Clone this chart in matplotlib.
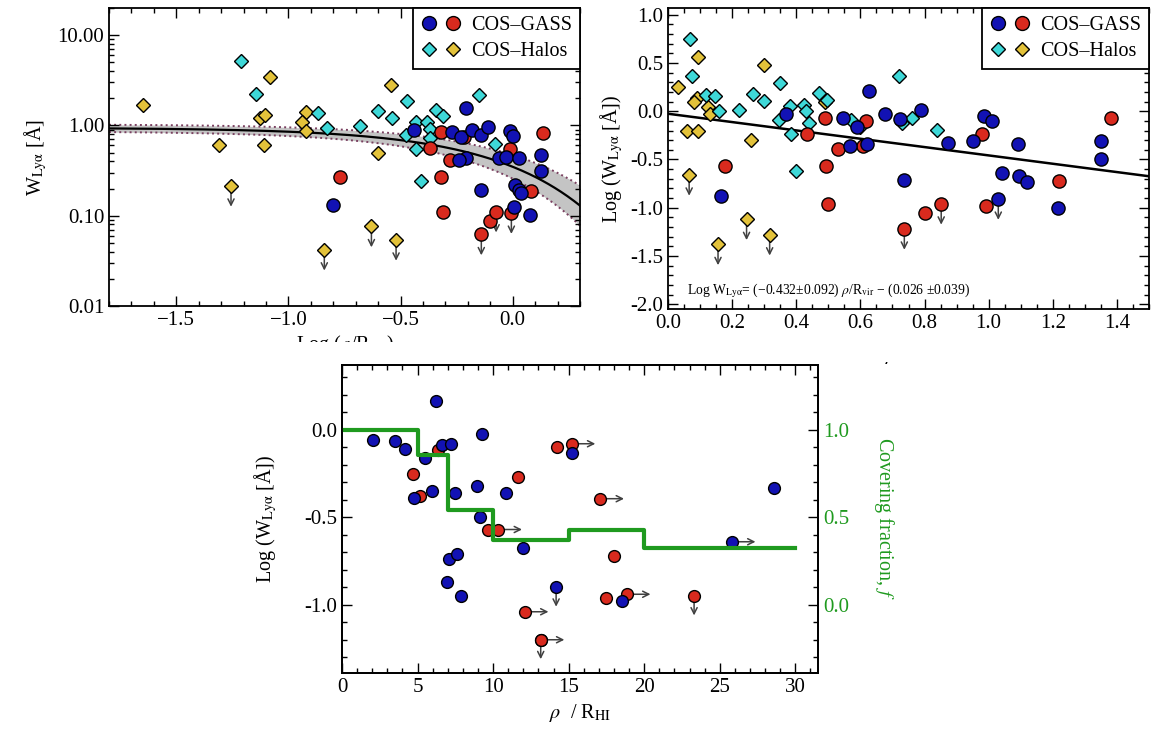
import numpy as np
import matplotlib
matplotlib.use('Agg')
import matplotlib.pyplot as plt
from matplotlib.ticker import MultipleLocator, FixedLocator, FormatStrFormatter, LogLocator, NullFormatter
from matplotlib.legend_handler import HandlerTuple
from matplotlib.lines import Line2D
from matplotlib.patches import Rectangle

plt.rcParams['font.family'] = ['Liberation Serif', 'DejaVu Serif']
plt.rcParams['mathtext.fontset'] = 'stix'

# ---------------- colours ----------------
BLUE = '#1212b4'
RED = '#d92a1e'
CYAN = '#3ed8d8'
GOLD = '#e3c23a'
GREEN = '#1f9a1f'
ARROW = '#404040'

# ---------------- fit parameters ----------------
fit_slope = -0.432
fit_slope_err = 0.092
fit_intercept = 0.026
fit_intercept_err = 0.039

# ---------------- panel 1: W vs log(rho/Rvir) ----------------
p1_blue_x = [-0.80, -0.44, -0.27, -0.21, -0.23, -0.21, -0.24, -0.18, -0.14, -0.11, -0.14, -0.06,
             -0.03, -0.01, 0.00, 0.03, 0.01, 0.03, 0.035, 0.005, 0.076, 0.127, 0.127]
p1_blue_w = [0.13, 0.89, 0.84, 1.55, 0.74, 0.44, 0.41, 0.88, 0.78, 0.95, 0.195, 0.44,
             0.45, 0.87, 0.76, 0.44, 0.22, 0.195, 0.18, 0.126, 0.102, 0.47, 0.31]
p1_red_x = [-0.77, -0.37, -0.32, -0.32, -0.31, -0.28, -0.216, -0.10, -0.013, 0.08, 0.137]
p1_red_w = [0.27, 0.56, 0.84, 0.27, 0.111, 0.41, 0.74, 0.087, 0.55, 0.19, 0.82]
p1_red_lim_x = [-0.14, -0.074, -0.006]
p1_red_lim_w = [0.062, 0.111, 0.107]
p1_cyan_x = [-1.21, -1.145, -0.87, -0.83, -0.68, -0.60, -0.54, -0.47, -0.475, -0.43, -0.41, -0.43,
             -0.38, -0.37, -0.37, -0.34, -0.31, -0.15, -0.08]
p1_cyan_w = [5.2, 2.24, 1.38, 0.93, 0.98, 1.44, 1.22, 1.86, 0.78, 0.55, 0.24, 1.10,
             1.10, 0.91, 0.72, 1.48, 1.26, 2.2, 0.63]
p1_gold_x = [-1.65, -1.31, -1.08, -1.126, -1.105, -1.11, -0.92, -0.94, -0.92, -0.60, -0.544]
p1_gold_w = [1.70, 0.60, 3.45, 1.22, 1.32, 0.60, 1.41, 1.10, 0.87, 0.49, 2.8]
p1_gold_lim_x = [-1.256, -0.84, -0.63, -0.52]
p1_gold_lim_w = [0.214, 0.042, 0.076, 0.054]

# ---------------- panel 2: log W vs rho/Rvir ----------------
p2_blue_x = [0.166, 0.369, 0.545, 0.569, 0.588, 0.621, 0.627, 0.678, 0.723, 0.737, 0.788, 0.872,
             0.951, 0.985, 1.01, 1.042, 1.093, 1.095, 1.121, 1.215, 1.35, 1.35]
p2_blue_y = [-0.88, -0.03, -0.07, -0.36, -0.16, -0.34, 0.21, -0.03, -0.08, -0.71, 0.01, -0.33,
             -0.31, -0.05, -0.10, -0.64, -0.34, -0.67, -0.73, -1.0, -0.31, -0.49]
p2_blue_lim_x = [1.03]
p2_blue_lim_y = [-0.91]
p2_red_x = [0.177, 0.432, 0.49, 0.494, 0.50, 0.531, 0.607, 0.618, 0.802, 0.98, 0.993, 1.22, 1.38]
p2_red_y = [-0.57, -0.24, -0.07, -0.57, -0.96, -0.39, -0.36, -0.10, -1.06, -0.24, -0.98, -0.72, -0.07]
p2_red_lim_x = [0.737, 0.852]
p2_red_lim_y = [-1.22, -0.96]
p2_cyan_x = [0.07, 0.075, 0.12, 0.146, 0.16, 0.22, 0.265, 0.30, 0.35, 0.345, 0.38, 0.385,
             0.40, 0.425, 0.44, 0.43, 0.47, 0.495, 0.57, 0.60, 0.72, 0.73, 0.76, 0.84]
p2_cyan_y = [0.75, 0.37, 0.17, 0.16, 0.0, 0.01, 0.18, 0.11, 0.29, -0.09, 0.05, -0.24,
             -0.62, 0.06, -0.12, 0.0, 0.19, 0.12, -0.09, -0.16, 0.37, -0.12, -0.07, -0.19]
p2_gold_x = [0.03, 0.058, 0.094, 0.094, 0.09, 0.08, 0.125, 0.13, 0.26, 0.30, 0.49]
p2_gold_y = [0.25, -0.21, -0.21, 0.56, 0.14, 0.10, 0.045, -0.03, -0.30, 0.48, 0.10]
p2_gold_lim_x = [0.066, 0.156, 0.245, 0.317]
p2_gold_lim_y = [-0.66, -1.38, -1.12, -1.28]

# ---------------- panel 3: log W vs rho/R_HI ----------------
p3_blue_x = [2.07, 3.51, 4.17, 5.5, 6.23, 6.6, 7.2, 4.77, 5.94, 7.48, 8.92, 9.25, 9.14, 10.86,
             7.1, 7.6, 6.93, 7.86, 12.0, 15.2, 18.5, 28.6]
p3_blue_y = [-0.057, -0.067, -0.11, -0.16, 0.166, -0.086, -0.08, -0.39, -0.35, -0.36, -0.32, -0.023,
             -0.50, -0.36, -0.74, -0.71, -0.87, -0.95, -0.676, -0.133, -0.98, -0.33]
p3_blue_down_x = [14.17]
p3_blue_down_y = [-0.90]
p3_blue_right_x = [25.8]
p3_blue_right_y = [-0.64]
p3_red_x = [4.72, 5.17, 6.38, 9.69, 11.68, 14.2, 18.0, 17.46]
p3_red_y = [-0.25, -0.38, -0.114, -0.57, -0.27, -0.10, -0.72, -0.96]
p3_red_right_x = [10.35, 15.2, 17.1, 18.85, 12.1, 13.15]
p3_red_right_y = [-0.57, -0.08, -0.394, -0.94, -1.04, -1.20]
p3_red_down_x = [23.3, 13.15]
p3_red_down_y = [-0.95, -1.20]
cf_edges = [0, 5, 7, 10, 15, 20, 30]
cf_values = [1.0, 0.857, 0.543, 0.371, 0.429, 0.324]

# ---------------- figure ----------------
W, H = 1160, 731
fig = plt.figure(figsize=(W / 100, H / 100), dpi=100)
TICKFS = 15
LABFS = 14.5


def px_axes(x0, y0, x1, y1):
    return fig.add_axes([x0 / W, 1 - y1 / H, (x1 - x0) / W, (y1 - y0) / H])


def style(ax, right=True):
    ax.tick_params(which='both', direction='in', top=True, right=right, labelsize=TICKFS, width=1.0)
    ax.tick_params(which='major', length=7)
    ax.tick_params(which='minor', length=3.5)
    for s in ax.spines.values():
        s.set_linewidth(1.3)


def down_arrows(ax, xs, ys, length=15):
    for x, y in zip(xs, ys):
        ax.annotate('', xy=(x, y), xytext=(0, -length), textcoords='offset points',
                    arrowprops=dict(arrowstyle='<-', color=ARROW, lw=1.1, shrinkA=0, shrinkB=0,
                                    mutation_scale=11), zorder=2)


def right_arrows(ax, xs, ys, length=17):
    for x, y in zip(xs, ys):
        ax.annotate('', xy=(x, y), xytext=(length, 0), textcoords='offset points',
                    arrowprops=dict(arrowstyle='<-', color=ARROW, lw=1.1, shrinkA=0, shrinkB=0,
                                    mutation_scale=11), zorder=2)


def pts(ax, x, y, marker, color, ms):
    ax.plot(x, y, ls='none', marker=marker, mfc=color, mec='black', mew=1.0, ms=ms, zorder=3)


def add_legend(ax, ms_c, ms_d):
    h1 = (Line2D([], [], ls='none', marker='o', mfc=BLUE, mec='k', ms=ms_c),
          Line2D([], [], ls='none', marker='o', mfc=RED, mec='k', ms=ms_c))
    h2 = (Line2D([], [], ls='none', marker='D', mfc=CYAN, mec='k', ms=ms_d),
          Line2D([], [], ls='none', marker='D', mfc=GOLD, mec='k', ms=ms_d))
    leg = ax.legend([h1, h2], ['COS\u2013GASS', 'COS\u2013Halos'],
                    handler_map={tuple: HandlerTuple(ndivide=None, pad=0.4)},
                    loc='upper right', fancybox=False, edgecolor='black', framealpha=1,
                    borderaxespad=0, fontsize=14.5, handlelength=2.0, handletextpad=0.5,
                    labelspacing=0.35, borderpad=0.4)
    leg.get_frame().set_linewidth(1.3)
    leg.set_zorder(5)


ylab = r'W$_{\rm Ly\alpha}$ [Å]'
logylab = r'Log (W$_{\rm Ly\alpha}$ [Å])'

# ---- panel 1 ----
ax1 = px_axes(109, 8, 580, 306)
r = np.linspace(-1.8, 0.3, 300)
rr = 10 ** r
combos = np.array([(fit_slope + a) * rr - (fit_intercept + b)
                   for a in (-fit_slope_err, fit_slope_err) for b in (-fit_intercept_err, fit_intercept_err)])
up = 10 ** combos.max(axis=0)
lo = 10 ** combos.min(axis=0)
ax1.fill_between(r, lo, up, color='#c4c4c4', lw=0, zorder=1)
ax1.plot(r, up, color='#7a4060', ls=':', lw=1.4, zorder=1.5)
ax1.plot(r, lo, color='#7a4060', ls=':', lw=1.4, zorder=1.5)
ax1.plot(r, 10 ** (fit_slope * rr - fit_intercept), color='black', lw=1.6, zorder=1.6)
down_arrows(ax1, p1_gold_lim_x, p1_gold_lim_w)
down_arrows(ax1, p1_red_lim_x, p1_red_lim_w)
pts(ax1, p1_gold_x + p1_gold_lim_x, p1_gold_w + p1_gold_lim_w, 'D', GOLD, 7)
pts(ax1, p1_cyan_x, p1_cyan_w, 'D', CYAN, 7)
pts(ax1, p1_red_x + p1_red_lim_x, p1_red_w + p1_red_lim_w, 'o', RED, 9.5)
pts(ax1, p1_blue_x, p1_blue_w, 'o', BLUE, 9.5)
ax1.set_yscale('log')
ax1.set_xlim(-1.8, 0.3)
ax1.set_ylim(0.01, 20)
ax1.xaxis.set_major_locator(MultipleLocator(0.5))
ax1.xaxis.set_minor_locator(MultipleLocator(0.1))
ax1.yaxis.set_major_locator(FixedLocator([0.01, 0.1, 1, 10]))
ax1.yaxis.set_major_formatter(FormatStrFormatter('%.2f'))
ax1.yaxis.set_minor_locator(LogLocator(base=10, subs=np.arange(2, 10)))
ax1.yaxis.set_minor_formatter(NullFormatter())
style(ax1)
ax1.set_ylabel(ylab, fontsize=LABFS, labelpad=6)
ax1.set_xlabel(r'Log ($\rho$/R$_{\rm vir}$)', fontsize=LABFS, labelpad=2)
add_legend(ax1, 10, 7.5)

# ---- panel 2 ----
ax2 = px_axes(668, 8, 1149, 309)
xl = np.array([0.0, 1.5])
ax2.plot(xl, fit_slope * xl - fit_intercept, color='black', lw=1.8, zorder=1)
down_arrows(ax2, p2_gold_lim_x, p2_gold_lim_y)
down_arrows(ax2, p2_red_lim_x, p2_red_lim_y)
down_arrows(ax2, p2_blue_lim_x, p2_blue_lim_y)
pts(ax2, p2_gold_x + p2_gold_lim_x, p2_gold_y + p2_gold_lim_y, 'D', GOLD, 7)
pts(ax2, p2_cyan_x, p2_cyan_y, 'D', CYAN, 7)
pts(ax2, p2_red_x + p2_red_lim_x, p2_red_y + p2_red_lim_y, 'o', RED, 9.5)
pts(ax2, p2_blue_x + p2_blue_lim_x, p2_blue_y + p2_blue_lim_y, 'o', BLUE, 9.5)
ax2.set_xlim(0, 1.5)
ax2.set_ylim(-2.05, 1.07)
ax2.xaxis.set_major_locator(MultipleLocator(0.2))
ax2.xaxis.set_minor_locator(MultipleLocator(0.05))
ax2.yaxis.set_major_locator(MultipleLocator(0.5))
ax2.yaxis.set_minor_locator(MultipleLocator(0.1))
ax2.yaxis.set_major_formatter(FormatStrFormatter('%.1f'))
style(ax2)
ax2.set_ylabel(logylab, fontsize=LABFS)
ax2.set_xlabel(r'$\rho$/R$_{\rm vir}$', fontsize=LABFS, labelpad=8)
eq = (r'Log W$_{\rm Ly\alpha}$= (' + f'\u2212{abs(fit_slope):.3f}\u00b1{fit_slope_err:.3f}' +
      r') $\rho$/R$_{\rm vir}$ ' + f'\u2212 ({fit_intercept:.3f} \u00b1{fit_intercept_err:.3f})')
ax2.text(0.06, -1.86, eq, fontsize=9.8, va='center', ha='left')
add_legend(ax2, 10, 7.5)

# ---- cover the cut-off region below the top row ----
fig.add_artist(Rectangle((0, 1 - 362 / H), 620 / W, 20 / H, transform=fig.transFigure,
                         facecolor='white', edgecolor='none', zorder=5))
fig.add_artist(Rectangle((620 / W, 1 - 362 / H), 1 - 620 / W, 22 / H, transform=fig.transFigure,
                         facecolor='white', edgecolor='none', zorder=5))

# ---- panel 3 ----
ax3 = px_axes(342, 365, 818, 673)
ax3.set_zorder(6)
right_arrows(ax3, p3_red_right_x, p3_red_right_y)
right_arrows(ax3, p3_blue_right_x, p3_blue_right_y)
down_arrows(ax3, p3_red_down_x, p3_red_down_y, length=14)
down_arrows(ax3, p3_blue_down_x, p3_blue_down_y, length=14)
pts(ax3, p3_red_x + p3_red_right_x + p3_red_down_x,
    p3_red_y + p3_red_right_y + p3_red_down_y, 'o', RED, 8.5)
pts(ax3, p3_blue_x + p3_blue_down_x + p3_blue_right_x,
    p3_blue_y + p3_blue_down_y + p3_blue_right_y, 'o', BLUE, 8.5)
ax3.set_xlim(0, 31.5)
ax3.set_ylim(-1.39, 0.37)
ax3.xaxis.set_major_locator(MultipleLocator(5))
ax3.xaxis.set_minor_locator(MultipleLocator(1))
ax3.yaxis.set_major_locator(MultipleLocator(0.5))
ax3.yaxis.set_minor_locator(MultipleLocator(0.1))
ax3.yaxis.set_major_formatter(FormatStrFormatter('%.1f'))
style(ax3, right=False)
ax3.set_ylabel(logylab, fontsize=LABFS, labelpad=18)
ax3.set_xlabel(r'$\rho$  / R$_{\rm HI}$', fontsize=LABFS)

tw = ax3.twinx()
tw.set_zorder(7)
tw.step(cf_edges, cf_values + [cf_values[-1]], where='post', color=GREEN, lw=3)
tw.set_ylim(-0.39, 1.37)
tw.yaxis.set_major_locator(MultipleLocator(0.5))
tw.yaxis.set_minor_locator(MultipleLocator(0.1))
tw.yaxis.set_major_formatter(FormatStrFormatter('%.1f'))
tw.tick_params(which='both', direction='in', labelsize=TICKFS, labelcolor=GREEN, width=1.0)
tw.tick_params(which='major', length=7)
tw.tick_params(which='minor', length=3.5)
for s in tw.spines.values():
    s.set_linewidth(1.3)
tw.set_ylabel(r'Covering fraction, $f$', color=GREEN, fontsize=LABFS, rotation=270, labelpad=34)

fig.savefig('out.png', dpi=100)
